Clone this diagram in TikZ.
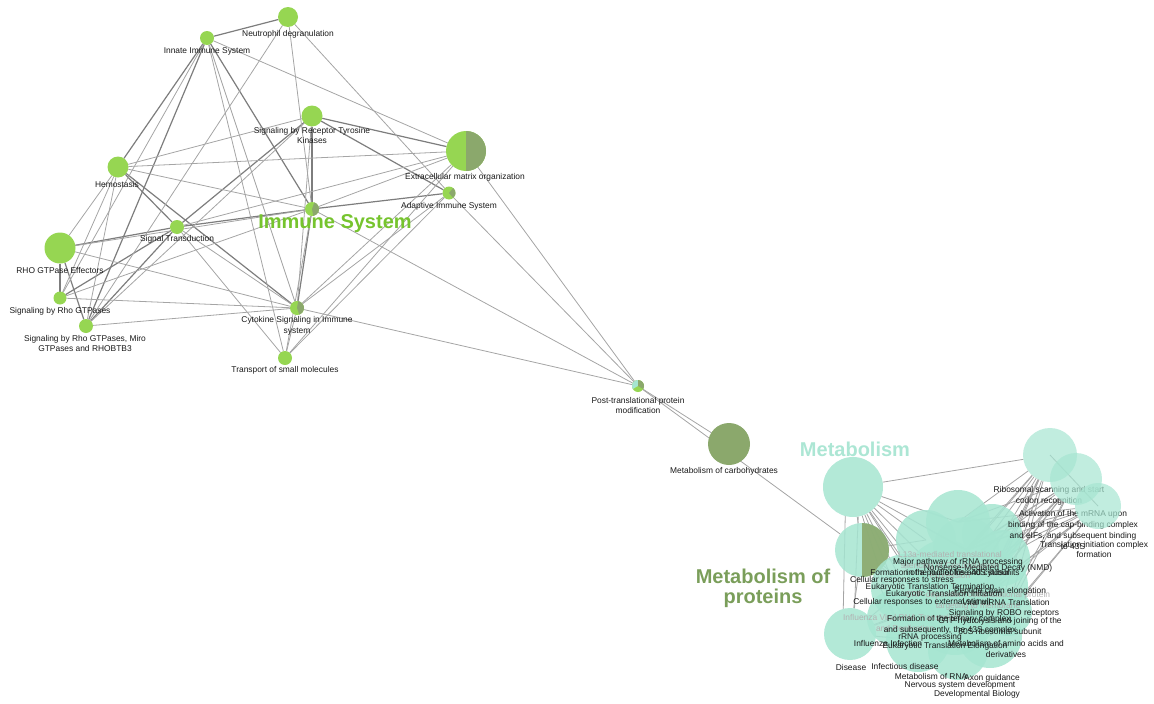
\documentclass[tikz,border=0pt]{standalone}
\usepackage{fontspec}
\setmainfont{Liberation Sans}
\usetikzlibrary{positioning}
\pgfdeclarelayer{bg}
\pgfsetlayers{bg,main}

\definecolor{nodegreen}{RGB}{150,214,82}
\definecolor{nodeolive}{RGB}{139,168,108}
\definecolor{nodeteal}{RGB}{166,229,209}
\definecolor{txtgreen}{RGB}{118,196,46}
\definecolor{txtteal}{RGB}{172,230,212}
\definecolor{txtolive}{RGB}{122,158,90}
\definecolor{edgegray}{RGB}{165,165,165}
\definecolor{edgedark}{RGB}{125,125,125}

\tikzset{
  gnode/.style={circle, fill=nodegreen, inner sep=0pt, outer sep=0pt, minimum size=#1},
  onode/.style={circle, fill=nodeolive, inner sep=0pt, outer sep=0pt, minimum size=#1},
  tnode/.style={circle, fill=nodeteal, fill opacity=0.86, inner sep=0pt, outer sep=0pt, minimum size=#1},
  lnode/.style={tnode=#1, fill opacity=0.7},
  lbl/.style={font=\fontsize{8.4}{10.8}\selectfont, align=center, inner sep=0pt, text=black!90},
  faint/.style={lbl, text=black!30},
  group/.style={font=\fontsize{20}{20}\selectfont\bfseries, align=center, inner sep=0pt},
  edge/.style={draw=edgegray, line width=0.8pt},
  bedge/.style={draw=edgedark, line width=1.2pt},
}

\begin{document}
\begin{tikzpicture}[x=1pt, y=-1pt]
    \useasboundingbox (0,0) rectangle (1154,704);

    % immune system cluster
    \node[gnode=20pt] (neu) at (288,17) {};
    \node[gnode=14pt] (inn) at (207,38) {};
    \node[gnode=21pt] (rtk) at (312,116) {};
    \node[gnode=40pt] (ecm) at (466,151) {};
    \node[gnode=21pt] (hem) at (118,167) {};
    \node[gnode=13pt] (adp) at (449,193) {};
    \node[gnode=14pt] (imm) at (312,209) {};
    \node[gnode=14pt] (sig) at (177,227) {};
    \node[gnode=31pt] (rho) at (60,248) {};
    \node[gnode=13pt] (srg) at (60,298) {};
    \node[gnode=14pt] (mir) at (86,326) {};
    \node[gnode=14pt] (cyt) at (297,308) {};
    \node[gnode=14pt] (tsm) at (285,358) {};
    \node[gnode=12pt] (ptm) at (638,386) {};
    \node[onode=42pt] (carb) at (729,444) {};

    \fill[nodeolive] (ecm.north) arc[start angle=90, end angle=-90, radius=20pt] -- cycle;
    \fill[nodeolive] (imm.center) -- (imm.70) arc[start angle=70, end angle=-80, radius=7pt] -- cycle;
    \fill[nodeolive] (adp.center) -- (adp.50) arc[start angle=50, end angle=-50, radius=6.5pt] -- cycle;
    \fill[nodeolive] (cyt.center) -- (cyt.80) arc[start angle=80, end angle=-70, radius=7pt] -- cycle;
    \fill[nodeteal] (ptm.center) -- (ptm.north) arc[start angle=90, end angle=210, radius=6pt] -- cycle;
    \fill[nodeolive] (ptm.center) -- (ptm.-30) arc[start angle=-30, end angle=90, radius=6pt] -- cycle;

    \node[lbl] (neu-l) at (288,34) {Neutrophil degranulation};
    \node[lbl] (inn-l) at (207,51) {Innate Immune System};
    \node[lbl] (rtk-l) at (312,135.5) {Signaling by Receptor Tyrosine\\Kinases};
    \node[lbl] (ecm-l) at (465,177) {Extracellular matrix organization};
    \node[lbl] (hem-l) at (117,184) {Hemostasis};
    \node[lbl] (adp-l) at (449,206) {Adaptive Immune System};
    \node[lbl] (sig-l) at (177,239) {Signal Transduction};
    \node[lbl] (rho-l) at (60,270) {RHO GTPase Effectors};
    \node[lbl] (srg-l) at (60,311) {Signaling by Rho GTPases};
    \node[lbl] (mir-l) at (85,343.5) {Signaling by Rho GTPases, Miro\\GTPases and RHOBTB3};
    \node[lbl] (cyt-l) at (297,326) {Cytokine Signaling in Immune\\system};
    \node[lbl] (tsm-l) at (285,370) {Transport of small molecules};
    \node[lbl] (ptm-l) at (638,405.5) {Post-translational protein\\modification};
    \node[lbl] (carb-l) at (724,471) {Metabolism of carbohydrates};

    \node[group, text=txtgreen] (immune-t) at (335,224) {Immune System};
    \node[group, text=txtteal] (metab-t) at (855,449) {Metabolism};
    \node[group, text=txtolive] (prot-t) at (763,588) {Metabolism of\\proteins};

    % metabolism cluster
    \node[tnode=60pt] (A) at (853,487) {};
    \node[tnode=54pt] (B) at (862,550) {};
    \fill[nodeolive, fill opacity=0.9] (B.north) arc[start angle=90, end angle=-90, radius=27pt] -- cycle;
    \node[tnode=52pt] (D) at (850,634) {};

    \foreach \n/\x/\y/\r in {b1/958/522/64, b2/992/534/60, b3/926/540/60, b4/966/550/66,
        b5/905/588/68, b6/945/578/76, b7/992/586/72, b8/1002/558/56, b9/955/615/80,
        b10/918/640/64, b11/990/636/64, b12/958/650/60, b13/932/602/60, b14/978/602/60,
        b15/1008/612/48, b16/895/618/56}
      \node[tnode=\r pt] (\n) at (\x,\y) {};

    \node[faint] (l13a-l) at (950,566) {L13a-mediated translational\\silencing of Ceruloplasmin\\expression};
    \node[faint] (flu-l) at (905,623.5) {Influenza Viral RNA Transcription\\and Replication};
    \node[faint] (srp-l) at (978,600.5) {SRP-dependent cotranslational protein\\targeting to membrane};

    \node[lbl] (rrna-l) at (958,567.5) {Major pathway of rRNA processing\\in the nucleolus and cytosol};
    \node[lbl] (pool-l) at (945,573) {Formation of a pool of free 40S subunits};
    \node[lbl] (nmd-l) at (988,568) {Nonsense-Mediated Decay (NMD)};
    \node[lbl] (crs-l) at (902,580) {Cellular responses to stress};
    \node[lbl] (ett-l) at (930,587) {Eukaryotic Translation Termination};
    \node[lbl] (eti-l) at (944,594) {Eukaryotic Translation Initiation};
    \node[lbl] (cre-l) at (922,602) {Cellular responses to external stimuli};
    \node[lbl] (pce-l) at (1000,591) {Peptide chain elongation};
    \node[lbl] (vmt-l) at (1006,602) {Viral mRNA Translation};
    \node[lbl] (robo-l) at (1004,613) {Signaling by ROBO receptors};
    \node[lbl] (tern-l) at (950,624.5) {Formation of the ternary complex,\\and subsequently, the 43S complex};
    \node[lbl] (gtp-l) at (1000,626) {GTP hydrolysis and joining of the\\60S ribosomal subunit};
    \node[lbl] (rp-l) at (930,637) {rRNA processing};
    \node[lbl] (flui-l) at (888,643) {Influenza Infection};
    \node[lbl] (ete-l) at (945,646) {Eukaryotic Translation Elongation};
    \node[lbl] (amino-l) at (1006,649) {Metabolism of amino acids and\\derivatives};
    \node[lbl] (dis-l) at (851,667) {Disease};
    \node[lbl] (inf-l) at (905,666) {Infectious disease};
    \node[lbl] (rna-l) at (931,676) {Metabolism of RNA};
    \node[lbl] (axon-l) at (992,678) {Axon guidance};
    \node[lbl] (nsd-l) at (960,685) {Nervous system development};
    \node[lbl] (dev-l) at (977,694) {Developmental Biology};

    \node[lbl] (scan-l) at (1049,495.5) {Ribosomal scanning and start\\codon recognition};
    \node[lbl] (act-l) at (1073,530) {Activation of the mRNA upon\\binding of the cap-binding complex\\and eIFs, and subsequent binding\\to 43S};
    \node[lbl] (tic-l) at (1094,549.5) {Translation initiation complex\\formation};

    \node[lnode=54pt] (R1) at (1050,455) {};
    \node[lnode=52pt] (R2) at (1076,479) {};
    \node[lnode=46pt] (R3) at (1098,506) {};

    % connectors
    \begin{pgfonlayer}{bg}
      \foreach \a/\b in {inn/neu, inn/hem, inn/mir, inn/imm, rtk/ecm, rtk/adp, rtk/sig, rtk/imm,
          imm/adp, imm/sig, hem/cyt, sig/rho, rho/srg, rho/mir, sig/mir, sig/srg, hem/sig, imm/cyt}
        \draw[bedge] (\a) -- (\b);
      \foreach \a/\b in {inn/srg, inn/cyt, inn/ecm, inn/tsm, neu/imm, neu/adp, neu/mir, rtk/hem,
          rtk/cyt, rtk/mir, hem/ecm, hem/imm, hem/rho, hem/srg, hem/mir, ecm/imm, ecm/sig, ecm/cyt,
          ecm/tsm, adp/cyt, adp/tsm, imm/rho, imm/srg, sig/cyt, sig/tsm, rho/cyt, srg/cyt, mir/cyt,
          cyt/tsm, imm/tsm, ecm/ptm, adp/ptm, imm/ptm, cyt/ptm, ptm/carb, ptm/B}
        \draw[edge] (\a) -- (\b);
      \draw[edge] (A) -- (B);
      \draw[edge] (A.255) -- (D.105);
      \draw[edge] (A.280) -- (D.80);
      \draw[edge] (B) -- (D);
      \draw[edge] (A) -- (R1);
      \draw[edge] (R1.center) -- (R3.center);
      \foreach \t in {b1, b3, b4, b5, b6, b9, b10, b13, b16, b12}
        \draw[edge] (A) -- (\t.center);
      \foreach \t in {b3, b5, b6, b10, b13, b16, b12}
        \draw[edge] (B) -- (\t.center);
      \foreach \t in {b5, b10, b13, b16}
        \draw[edge] (D) -- (\t.center);
      \foreach \s in {R1, R2, R3}
        \foreach \t in {b1, b2, b4, b6, b7, b8, b9, b11, b14, b15}
          \draw[edge] (\s) -- (\t.center);
    \end{pgfonlayer}
\end{tikzpicture}
\end{document}
